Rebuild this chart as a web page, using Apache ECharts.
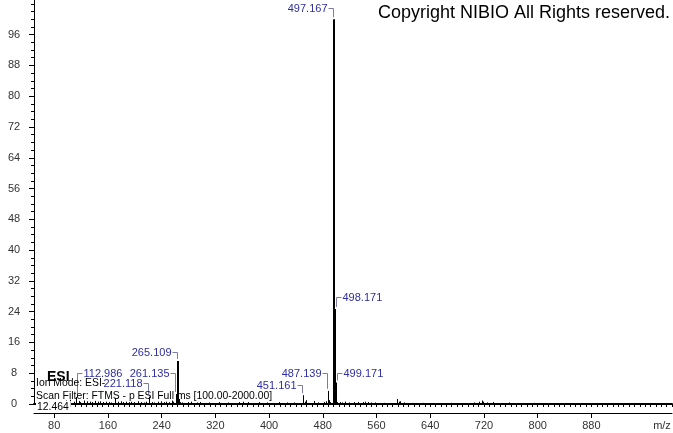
<!DOCTYPE html>
<html>
<head>
<meta charset="utf-8">
<script src="https://cdn.jsdelivr.net/npm/echarts@6/dist/echarts.min.js"></script>
<style>
  html, body { margin: 0; padding: 0; background: #fff; }
  #chart { width: 673px; height: 433px; }
</style>
</head>
<body>
<div id="chart"></div>
<script>
// peak list (m/z, relative abundance)
const peakMz = [
  60.99, 72.99, 89.02, 96.96, 101.02, 103.00, 108.98, 112.986, 116.93, 119.03,
  124.99, 129.02, 133.01, 137.02, 141.02, 145.03, 149.02, 153.02, 157.03, 161.05,
  165.02, 171.00, 175.02, 179.03, 183.01, 187.01, 191.02, 195.05, 199.00, 205.08,
  209.04, 213.08, 217.10, 221.118, 225.08, 229.12, 235.10, 239.06, 243.10, 247.13,
  251.10, 255.23, 257.09, 261.135, 263.12, 265.109, 266.11, 267.11, 271.10, 279.09,
  283.26, 293.10, 297.15, 311.17, 325.18, 339.20, 355.07, 361.13, 369.12, 385.15,
  397.15, 415.14, 427.16, 437.14, 451.161, 453.16, 455.15, 467.13, 473.15, 481.15,
  485.14, 487.139, 489.13, 491.14, 495.15, 497.167, 498.171, 499.171, 500.17, 501.17,
  505.15, 509.16, 513.15, 519.14, 527.16, 533.13, 539.15, 543.13, 547.16, 551.14,
  557.13, 571.13, 591.12, 593.13, 595.10, 601.12, 613.12, 629.13, 671.10, 705.16,
  713.14, 717.10, 719.11, 725.10, 733.13, 757.12, 795.10
];
const peakIntensity = [
  0.4, 0.5, 0.6, 0.9, 0.7, 1.1, 0.6, 1.8, 0.8, 0.5,
  0.9, 0.7, 0.6, 0.5, 0.8, 0.6, 0.7, 0.5, 0.6, 0.5,
  0.4, 1.6, 0.6, 0.7, 0.5, 0.6, 0.5, 0.6, 0.5, 0.7,
  0.5, 0.4, 0.6, 1.9, 0.5, 0.4, 0.6, 0.7, 0.5, 0.6,
  0.5, 0.9, 0.6, 2.6, 0.6, 11.2, 1.3, 0.5, 0.4, 0.5,
  0.6, 0.4, 0.5, 0.4, 0.5, 0.4, 0.5, 0.6, 0.5, 0.5,
  0.4, 0.5, 0.4, 0.4, 2.3, 0.6, 1.0, 0.8, 0.4, 0.5,
  0.7, 3.4, 1.0, 0.5, 0.6, 100, 24.7, 5.6, 1.2, 0.5,
  0.5, 0.4, 0.6, 0.4, 0.5, 0.5, 0.5, 0.6, 0.5, 0.4,
  0.4, 0.3, 1.3, 0.6, 0.7, 0.4, 0.3, 0.3, 0.3, 0.4,
  0.6, 0.9, 0.6, 0.4, 0.5, 0.4, 0.3
];

// annotated peaks
const labelMz = [112.986, 221.118, 261.135, 265.109, 451.161, 487.139, 497.167, 498.171, 499.171];

// axis ticks
const xTickLabels = [80, 160, 240, 320, 400, 480, 560, 640, 720, 800, 880];
const yTickLabels = [0, 8, 16, 24, 32, 40, 48, 56, 64, 72, 80, 88, 96];

// where each annotation sits relative to its peak (side of the bracket, px above the top)
const labelPlacement = {
  '112.986': { side: 'right', rise: 24 },
  '221.118': { side: 'left', rise: 14 },
  '261.135': { side: 'left', rise: 21 },
  '265.109': { side: 'left', rise: 9 },
  '451.161': { side: 'left', rise: 10 },
  '487.139': { side: 'left', rise: 18 },
  '497.167': { side: 'left', rise: 11.5 },
  '498.171': { side: 'right', rise: 12 },
  '499.171': { side: 'right', rise: 9.5 }
};

const FONT = '"Liberation Sans", Arial, sans-serif';
const LABEL_BLUE = '#2e2ea0';

const xMinorTicks = [];
for (let v = 56; v <= 1000; v += 8) xMinorTicks.push(v);
const yMinorTicks = [];
for (let v = 0; v <= 104; v += 2) yMinorTicks.push(v);

const sticks = peakMz.map((m, i) => [m, peakIntensity[i]]);
const labelled = labelMz.map(m => [m, peakIntensity[peakMz.indexOf(m)]]);

const chart = echarts.init(document.getElementById('chart'));

chart.setOption({
  animation: false,
  grid: { left: 34, right: 1, top: 0, bottom: 29 },
  xAxis: [{
    type: 'value', min: 50, max: 1000,
    axisLine: { show: true, onZero: false, lineStyle: { color: '#000', width: 2 } },
    axisTick: { show: false },
    axisLabel: { show: false },
    splitLine: { show: false }
  }, {
    type: 'value', min: 50, max: 1000, position: 'bottom', offset: 9,
    axisLine: { show: true, onZero: false, lineStyle: { color: '#000', width: 1 } },
    axisTick: { show: true, length: 5, customValues: xTickLabels, lineStyle: { color: '#000' } },
    axisLabel: { customValues: xTickLabels, color: '#333', fontSize: 11, fontFamily: FONT, margin: 7 },
    splitLine: { show: false }
  }, {
    type: 'value', min: 50, max: 1000, position: 'bottom', offset: 9,
    axisLine: { show: false },
    axisTick: { show: true, length: 3, customValues: xMinorTicks, lineStyle: { color: '#000' } },
    axisLabel: { show: false },
    splitLine: { show: false }
  }],
  yAxis: [{
    type: 'value', min: 0, max: 105,
    axisLine: { show: true, onZero: false, lineStyle: { color: '#000' } },
    axisTick: { show: true, length: 5, customValues: yTickLabels, lineStyle: { color: '#000' } },
    axisLabel: { customValues: yTickLabels, align: 'center', margin: 20, color: '#333', fontSize: 11, fontFamily: FONT },
    splitLine: { show: false }
  }, {
    type: 'value', min: 0, max: 105, position: 'left',
    axisLine: { show: false },
    axisTick: { show: true, length: 3, customValues: yMinorTicks, lineStyle: { color: '#000' } },
    axisLabel: { show: false },
    splitLine: { show: false }
  }],
  series: [{
    type: 'custom',
    xAxisIndex: 0, yAxisIndex: 0,
    data: sticks,
    encode: { x: 0, y: 1 },
    silent: true,
    renderItem: function (params, api) {
      const top = api.coord([api.value(0), api.value(1)]);
      const base = api.coord([api.value(0), 0]);
      const w = api.value(1) > 5 ? 2 : 1;
      const x = w === 2 ? Math.round(top[0]) : Math.round(top[0]) + 0.5;
      return {
        type: 'line',
        shape: { x1: x, y1: base[1], x2: x, y2: top[1] },
        style: { stroke: '#000', lineWidth: w }
      };
    }
  }, {
    type: 'custom',
    xAxisIndex: 0, yAxisIndex: 0,
    data: labelled,
    encode: { x: 0, y: 1 },
    silent: true,
    clip: false,
    renderItem: function (params, api) {
      const m = api.value(0);
      const p = api.coord([m, api.value(1)]);
      const cfg = labelPlacement[m.toFixed(3)];
      const left = cfg.side === 'left';
      const vx = Math.round(p[0]) + (left ? -1 : 1) + 0.5;
      const ly = Math.round(p[1] - cfg.rise) + 0.5;
      const tx = left ? vx - 6 : vx + 6;
      return {
        type: 'group',
        children: [{
          type: 'polyline',
          shape: { points: [[left ? vx - 5 : vx + 5, ly], [vx, ly], [vx, p[1] - 2]] },
          style: { stroke: '#7c7caa', lineWidth: 1, fill: null }
        }, {
          type: 'text',
          style: {
            text: m.toFixed(3), x: tx, y: ly,
            align: left ? 'right' : 'left', verticalAlign: 'middle',
            fill: LABEL_BLUE, font: '11px ' + FONT
          }
        }]
      };
    }
  }],
  graphic: [{
    type: 'text', x: 670, y: 13, z: 100,
    style: { text: 'Copyright NIBIO All Rights reserved.', font: '18px ' + FONT, fill: '#000',
      textAlign: 'right', textVerticalAlign: 'middle', align: 'right', verticalAlign: 'middle' }
  }, {
    type: 'text', x: 47, y: 377, z: 100,
    style: { text: 'ESI', font: 'bold 14px ' + FONT, fill: '#000',
      textVerticalAlign: 'middle', verticalAlign: 'middle' }
  }, {
    type: 'text', x: 36, y: 383, z: 100,
    style: { text: 'Ion Mode: ESI-', font: '10.4px ' + FONT, fill: '#000',
      textVerticalAlign: 'middle', verticalAlign: 'middle' }
  }, {
    type: 'text', x: 36, y: 396, z: 100,
    style: { text: 'Scan Filter: FTMS - p ESI Full ms [100.00-2000.00]', font: '10.4px ' + FONT, fill: '#000',
      textVerticalAlign: 'middle', verticalAlign: 'middle' }
  }, {
    type: 'text', x: 36, y: 407, z: 100,
    style: { text: '12.464', font: '10.4px ' + FONT, fill: '#000', backgroundColor: '#fff', padding: [1, 2, 1, 1],
      textVerticalAlign: 'middle', verticalAlign: 'middle' }
  }, {
    type: 'text', x: 662, y: 426, z: 100,
    style: { text: 'm/z', font: '11px ' + FONT, fill: '#333',
      textAlign: 'center', textVerticalAlign: 'middle', align: 'center', verticalAlign: 'middle' }
  }]
});
</script>
</body>
</html>
